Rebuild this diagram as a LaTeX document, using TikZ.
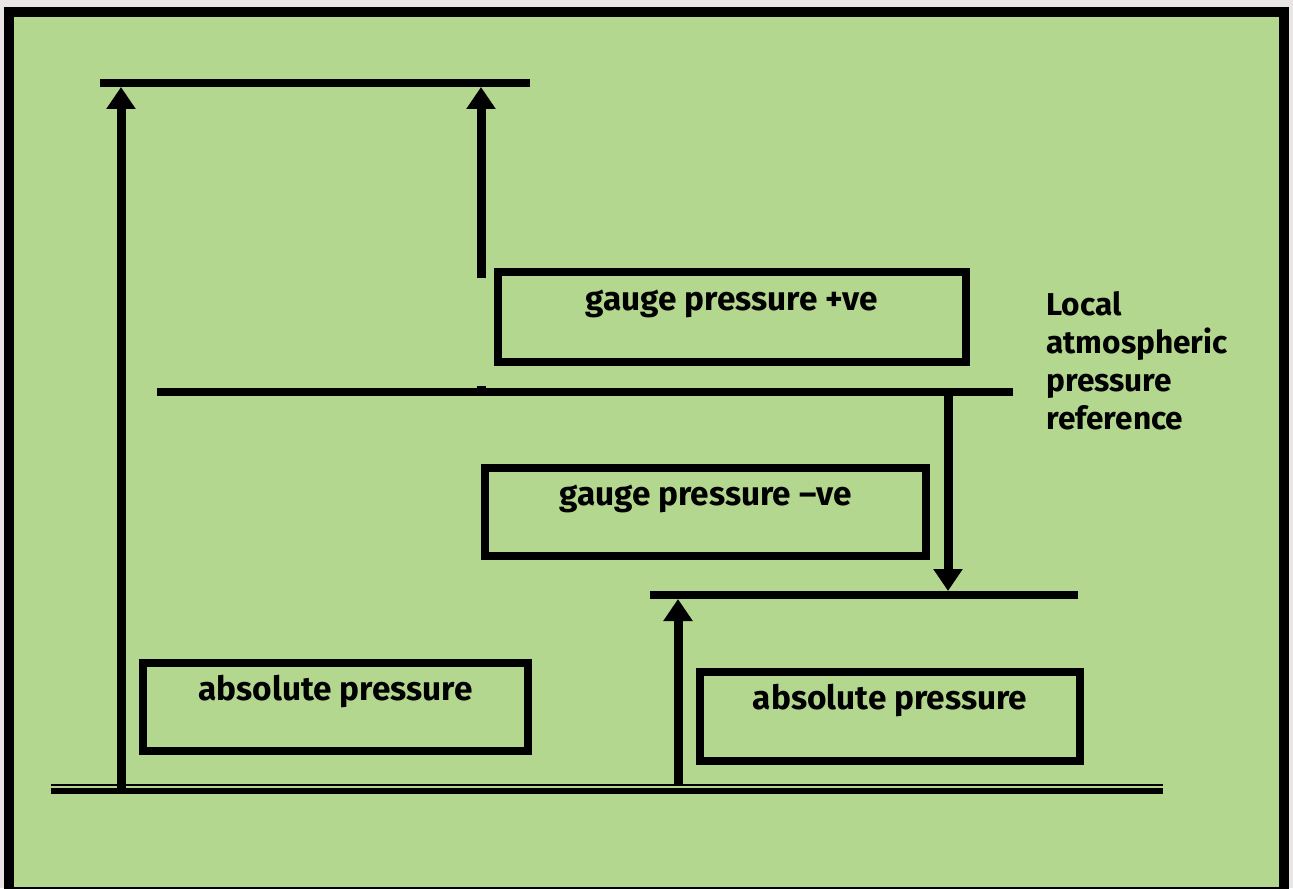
\documentclass[tikz,border=0pt]{standalone}
\usepackage{fontspec}
\setmainfont{Fira Sans}
\usepackage{tikz}
\usetikzlibrary{positioning, arrows.meta}
\definecolor{bgreen}{RGB}{179,215,142}
\definecolor{outside}{RGB}{232,229,228}
\tikzstyle{box} = [rectangle, draw=black, line width=0.17cm, text centered, font=\fontsize{19}{22}\selectfont\bfseries, text height=0.5cm, text depth=0.78cm]
\tikzstyle{level} = [line width=0.16cm]
\tikzstyle{arrow} = [line width=0.18cm, -{Triangle[length=0.44cm, width=0.56cm]}]
\tikzstyle{note} = [anchor=north west, align=left, inner sep=0pt, font=\fontsize{18}{21.6}\selectfont\bfseries]

\begin{document}
\begin{tikzpicture}[x=0.02cm, y=-0.02cm]
  \useasboundingbox (0,0) rectangle (1293,888);
  %背景与外框
  \fill[outside] (0,0) rectangle (1293,888);
  \draw[line width=0.2cm, fill=bgreen] (9,12) rectangle (1284,892);

  %各压力水平线的端点
  \coordinate (topL) at (100,83);
  \coordinate (topR) at (530,83);
  \coordinate (atmL) at (157,392);
  \coordinate (atmR) at (1013,392);
  \coordinate (vacL) at (650,595);
  \coordinate (vacR) at (1078,595);
  \coordinate (zeroL) at (51,791);
  \coordinate (zeroR) at (1163,791);

  %文字框
  \node (gpos) [box, minimum width=9.36cm, minimum height=1.8cm] at (732,317) {gauge pressure +ve};
  \node (gneg) [box, minimum width=8.82cm, minimum height=1.76cm] at (705.5,512) {gauge pressure --ve};
  \node (absL) [box, minimum width=7.7cm, minimum height=1.76cm] at (335.5,707) {absolute pressure};
  \node (absR) [box, minimum width=7.6cm, minimum height=1.78cm] at (890,716.5) {absolute pressure};
  \node (atm) [note] at (1046,291) {Local\\atmospheric\\pressure\\reference};

  %画水平线
  \draw [level](topL) -- (topR);
  \draw [level](atmL) -- (atmR);
  \draw [level](vacL) -- (vacR);
  \draw [line width=0.12cm](zeroL) -- (zeroR);
  \draw [line width=0.04cm]([yshift=0.12cm]zeroL) -- ([yshift=0.12cm]zeroR);

  %箭头的起止点
  \coordinate (a1s) at (121,788);
  \coordinate (a1e) at (121,87);
  \coordinate (a2s) at (481,278);
  \coordinate (a2e) at (481,87);
  \coordinate (a3s) at (948,396);
  \coordinate (a3e) at (948,591);
  \coordinate (a4s) at (678,785);
  \coordinate (a4e) at (678,599);
  \coordinate (stubT) at (481,386);
  \coordinate (stubB) at (481,392);

  %画箭头
  \draw [arrow](a1s) -- (a1e);
  \draw [arrow](a2s) -- (a2e);
  \draw [arrow](a3s) -- (a3e);
  \draw [arrow](a4s) -- (a4e);
  \draw [line width=0.18cm](stubT) -- (stubB);
\end{tikzpicture}
\end{document}
